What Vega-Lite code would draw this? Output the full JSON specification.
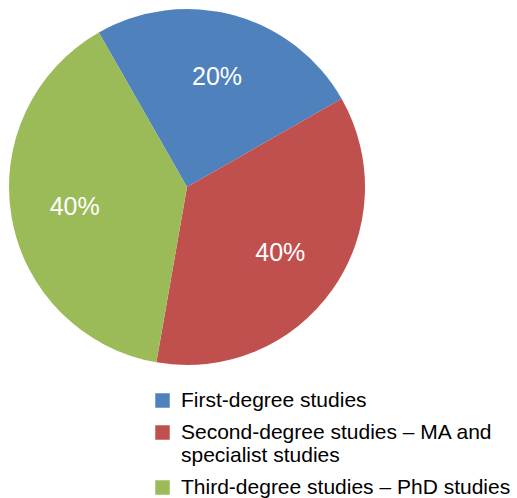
{
  "$schema": "https://vega.github.io/schema/vega-lite/v6.json",
  "width": 374,
  "height": 374,
  "autosize": {"type": "none"},
  "padding": {"left": 0, "top": 0, "right": 143, "bottom": 124},
  "background": "white",
  "data": {
    "values": [
      {"category": "First-degree studies", "share": 25, "label": "20%", "order": 1},
      {"category": "Second-degree studies – MA and specialist studies", "share": 36, "label": "40%", "order": 2},
      {"category": "Third-degree studies – PhD studies", "share": 39, "label": "40%", "order": 3}
    ]
  },
  "encoding": {
    "theta": {"field": "share", "type": "quantitative", "stack": true, "scale": {"range": [-0.5184, 5.7648]}},
    "order": {"field": "order", "type": "quantitative"}
  },
  "layer": [
    {
      "mark": {"type": "arc", "outerRadius": 178},
      "encoding": {
        "color": {
          "field": "category",
          "type": "nominal",
          "sort": ["First-degree studies", "Second-degree studies – MA and specialist studies", "Third-degree studies – PhD studies"],
          "scale": {"range": ["#4F81BD", "#C0504D", "#9BBB59"]},
          "legend": {
            "title": null,
            "orient": "none",
            "legendX": 152,
            "legendY": 390,
            "padding": 0,
            "symbolType": "square",
            "symbolSize": 210,
            "symbolStrokeWidth": 0,
            "labelFont": "Liberation Sans",
            "labelFontSize": 21,
            "labelColor": "#000000",
            "labelLimit": 400,
            "labelOffset": 8,
            "labelLineHeight": 20,
            "rowPadding": 10,
            "labelExpr": "length(datum.label) > 40 ? ['Second-degree studies – MA and', 'specialist studies'] : datum.label"
          }
        }
      }
    },
    {
      "mark": {"type": "text", "radius": 114, "font": "Liberation Sans", "fontSize": 25, "color": "white", "align": "center", "baseline": "middle"},
      "encoding": {
        "text": {"field": "label", "type": "nominal"}
      }
    }
  ]
}
